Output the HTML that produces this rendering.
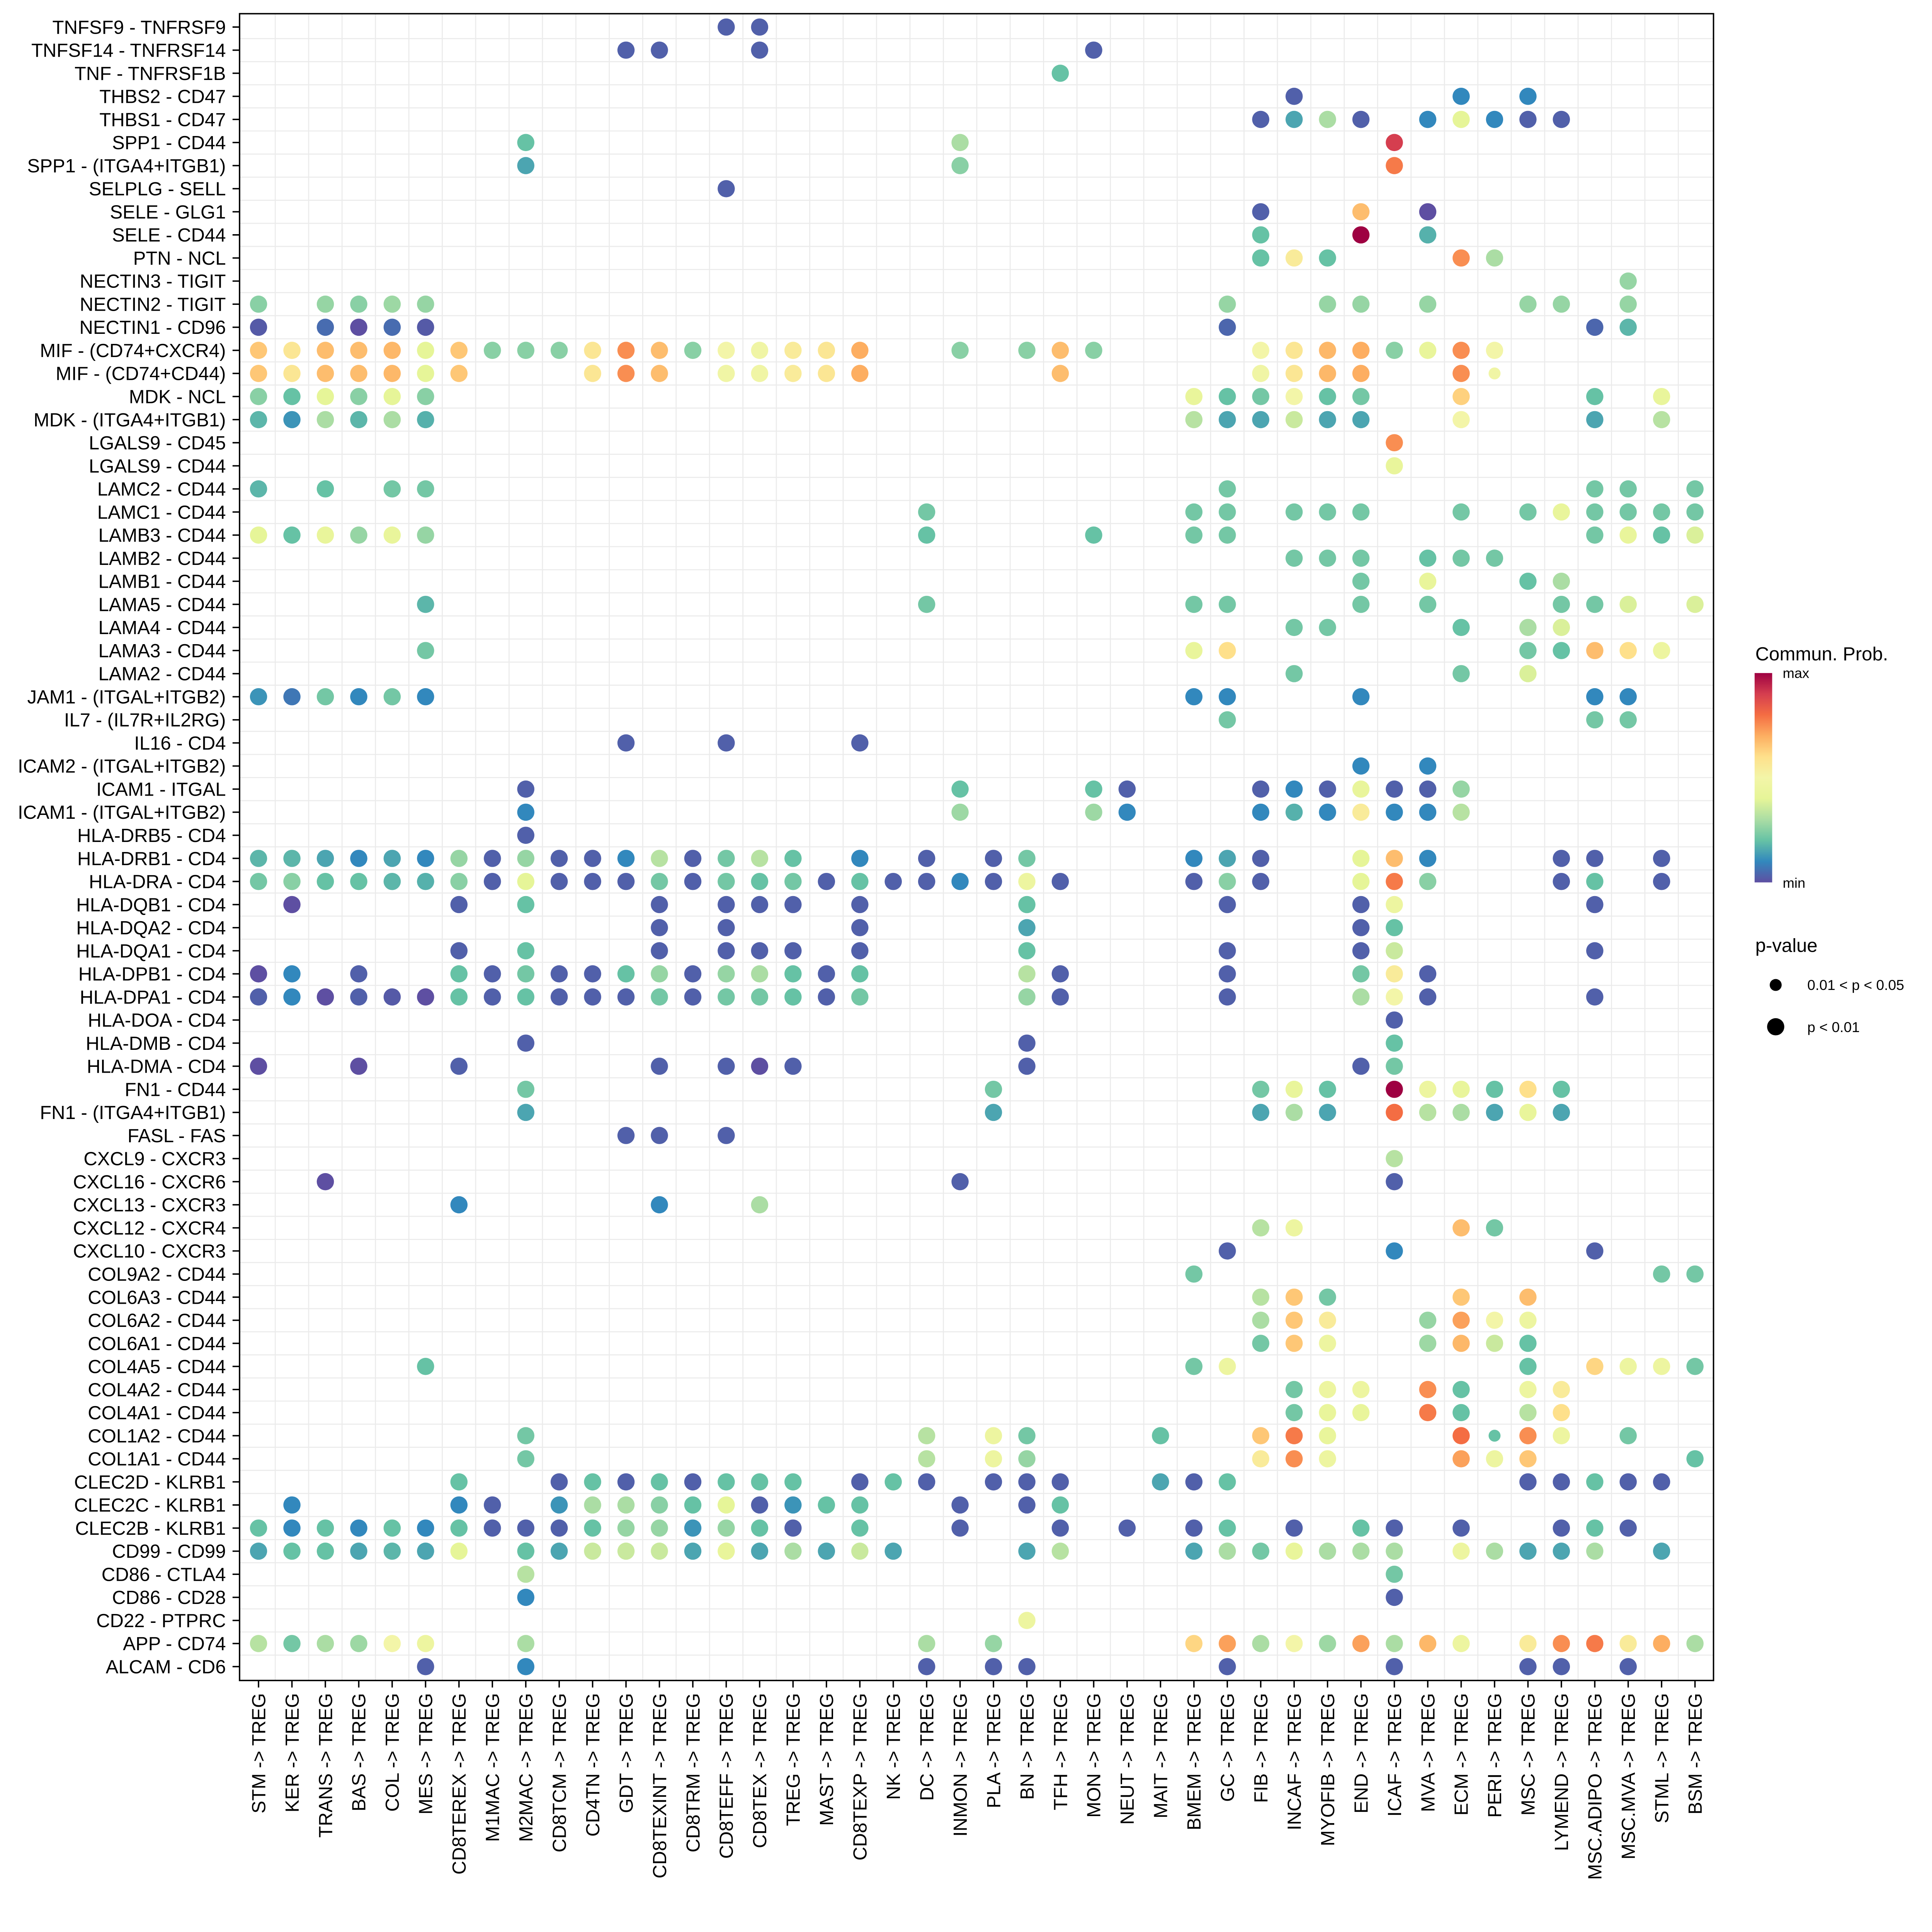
<!DOCTYPE html>
<html><head><meta charset="utf-8"><title>Communication probability dot plot</title>
<style>
html,body{margin:0;padding:0;background:#fff;overflow:hidden;width:100%;height:100%;}
svg{display:block;font-family:"Liberation Sans",Arial,sans-serif;width:100vw;height:100vh;}
</style></head>
<body>
<svg id="chart" xmlns="http://www.w3.org/2000/svg" viewBox="0 0 5500 5399" preserveAspectRatio="xMinYMin meet">
<rect x="0" y="0" width="5500" height="5399" fill="#fff"/>
<g>
<g id="grid"></g>
<g id="dots"></g>
<rect x="682" y="39" width="4196" height="4745" fill="none" stroke="#000" stroke-width="4"/>
<g id="yaxis"></g>
<g id="xaxis"></g>
<g>
  <defs>
    <linearGradient id="spec" x1="0" y1="1" x2="0" y2="0">
      <stop offset="0" stop-color="#5E4FA2"/><stop offset="0.1" stop-color="#3288BD"/>
      <stop offset="0.2" stop-color="#66C2A5"/><stop offset="0.3" stop-color="#ABDDA4"/>
      <stop offset="0.4" stop-color="#E6F598"/><stop offset="0.5" stop-color="#F3F5A8"/>
      <stop offset="0.6" stop-color="#FEE08B"/><stop offset="0.7" stop-color="#FDAE61"/>
      <stop offset="0.8" stop-color="#F46D43"/><stop offset="0.9" stop-color="#D53E4F"/>
      <stop offset="1" stop-color="#9E0142"/>
    </linearGradient>
  </defs>
  <text x="4997" y="1880" font-size="54">Commun. Prob.</text>
  <rect x="4995" y="1916" width="50" height="596" fill="url(#spec)"/>
  <text x="5075" y="1930" font-size="40">max</text>
  <text x="5075" y="2527" font-size="40">min</text>
</g>
<g>
  <text x="4997" y="2710" font-size="54">p-value</text>
  <circle cx="5055" cy="2804" r="17" fill="#000"/>
  <circle cx="5055" cy="2923" r="24.5" fill="#000"/>
  <text x="5145" y="2818" font-size="41">0.01 &lt; p &lt; 0.05</text>
  <text x="5145" y="2938" font-size="41">p &lt; 0.01</text>
</g>
</g>
</svg>
<script>
const rowLabels = ["TNFSF9 - TNFRSF9","TNFSF14 - TNFRSF14","TNF - TNFRSF1B","THBS2 - CD47","THBS1 - CD47","SPP1 - CD44","SPP1 - (ITGA4+ITGB1)","SELPLG - SELL","SELE - GLG1","SELE - CD44","PTN - NCL","NECTIN3 - TIGIT","NECTIN2 - TIGIT","NECTIN1 - CD96","MIF - (CD74+CXCR4)","MIF - (CD74+CD44)","MDK - NCL","MDK - (ITGA4+ITGB1)","LGALS9 - CD45","LGALS9 - CD44","LAMC2 - CD44","LAMC1 - CD44","LAMB3 - CD44","LAMB2 - CD44","LAMB1 - CD44","LAMA5 - CD44","LAMA4 - CD44","LAMA3 - CD44","LAMA2 - CD44","JAM1 - (ITGAL+ITGB2)","IL7 - (IL7R+IL2RG)","IL16 - CD4","ICAM2 - (ITGAL+ITGB2)","ICAM1 - ITGAL","ICAM1 - (ITGAL+ITGB2)","HLA-DRB5 - CD4","HLA-DRB1 - CD4","HLA-DRA - CD4","HLA-DQB1 - CD4","HLA-DQA2 - CD4","HLA-DQA1 - CD4","HLA-DPB1 - CD4","HLA-DPA1 - CD4","HLA-DOA - CD4","HLA-DMB - CD4","HLA-DMA - CD4","FN1 - CD44","FN1 - (ITGA4+ITGB1)","FASL - FAS","CXCL9 - CXCR3","CXCL16 - CXCR6","CXCL13 - CXCR3","CXCL12 - CXCR4","CXCL10 - CXCR3","COL9A2 - CD44","COL6A3 - CD44","COL6A2 - CD44","COL6A1 - CD44","COL4A5 - CD44","COL4A2 - CD44","COL4A1 - CD44","COL1A2 - CD44","COL1A1 - CD44","CLEC2D - KLRB1","CLEC2C - KLRB1","CLEC2B - KLRB1","CD99 - CD99","CD86 - CTLA4","CD86 - CD28","CD22 - PTPRC","APP - CD74","ALCAM - CD6"];
const colLabels = ["STM","KER","TRANS","BAS","COL","MES","CD8TEREX","M1MAC","M2MAC","CD8TCM","CD4TN","GDT","CD8TEXINT","CD8TRM","CD8TEFF","CD8TEX","TREG","MAST","CD8TEXP","NK","DC","INMON","PLA","BN","TFH","MON","NEUT","MAIT","BMEM","GC","FIB","INCAF","MYOFIB","END","ICAF","MVA","ECM","PERI","MSC","LYMEND","MSC.ADIPO","MSC.MVA","STML","BSM"];
const targetLabel = "TREG";
// communication probability per row: [columnIndex, probability (0=min..1=max)]
const commProb = [
[[14,.03],[15,.03]],
[[11,.03],[12,.03],[15,.03],[25,.03]],
[[24,.2]],
[[31,.03],[36,.1],[38,.1]],
[[30,.03],[31,.15],[32,.3],[33,.03],[35,.1],[36,.4],[37,.1],[38,.03],[39,.03]],
[[8,.2],[21,.3],[34,.9]],
[[8,.15],[21,.25],[34,.78]],
[[14,.03]],
[[30,.03],[33,.67],[35,0]],
[[30,.2],[33,1],[35,.17]],
[[30,.2],[31,.55],[32,.2],[36,.75],[37,.3]],
[[41,.27]],
[[0,.25],[2,.27],[3,.25],[4,.28],[5,.27],[29,.27],[32,.27],[33,.27],[35,.27],[38,.27],[39,.27],[41,.27]],
[[0,.02],[2,.05],[3,0],[4,.05],[5,.02],[29,.04],[40,.04],[41,.18]],
[[0,.65],[1,.57],[2,.67],[3,.67],[4,.68],[5,.4],[6,.65],[7,.25],[8,.25],[9,.25],[10,.57],[11,.75],[12,.67],[13,.25],[14,.5],[15,.48],[16,.55],[17,.57],[18,.7],[21,.25],[23,.25],[24,.67],[25,.25],[30,.5],[31,.57],[32,.68],[33,.7],[34,.25],[35,.42],[36,.75],[37,.5]],
[[0,.65],[1,.57],[2,.67],[3,.67],[4,.68],[5,.4],[6,.65],[10,.57],[11,.75],[12,.67],[14,.48],[15,.48],[16,.55],[17,.57],[18,.7],[24,.67],[30,.48],[31,.57],[32,.68],[33,.7],[36,.75],[37,.48]],
[[0,.25],[1,.2],[2,.4],[3,.25],[4,.4],[5,.25],[28,.42],[29,.2],[30,.22],[31,.5],[32,.2],[33,.22],[36,.63],[40,.2],[42,.42]],
[[0,.18],[1,.12],[2,.3],[3,.18],[4,.3],[5,.17],[28,.32],[29,.15],[30,.15],[31,.35],[32,.15],[33,.15],[36,.5],[40,.15],[42,.32]],
[[34,.75]],
[[34,.42]],
[[0,.18],[2,.2],[4,.22],[5,.22],[29,.22],[40,.22],[41,.22],[43,.22]],
[[20,.22],[28,.22],[29,.22],[31,.22],[32,.22],[33,.22],[36,.22],[38,.22],[39,.42],[40,.22],[41,.22],[42,.22],[43,.22]],
[[0,.4],[1,.2],[2,.42],[3,.27],[4,.42],[5,.27],[20,.2],[25,.2],[28,.22],[29,.22],[40,.22],[41,.42],[42,.2],[43,.38]],
[[31,.22],[32,.22],[33,.22],[35,.2],[36,.22],[37,.22]],
[[33,.22],[35,.42],[38,.2],[39,.3]],
[[5,.18],[20,.22],[28,.22],[29,.22],[33,.22],[35,.22],[39,.22],[40,.22],[41,.38],[43,.38]],
[[31,.22],[32,.22],[36,.2],[38,.3],[39,.38]],
[[5,.22],[28,.42],[29,.6],[38,.22],[39,.2],[40,.67],[41,.6],[42,.45]],
[[31,.22],[36,.22],[38,.38]],
[[0,.12],[1,.07],[2,.22],[3,.1],[4,.22],[5,.1],[28,.1],[29,.1],[33,.1],[40,.1],[41,.1]],
[[29,.22],[40,.22],[41,.22]],
[[11,.03],[14,.03],[18,.03]],
[[33,.1],[35,.1]],
[[8,.03],[21,.2],[25,.2],[26,.03],[30,.03],[31,.1],[32,.03],[33,.42],[34,.03],[35,.03],[36,.27]],
[[8,.1],[21,.28],[25,.28],[26,.1],[30,.1],[31,.17],[32,.1],[33,.55],[34,.1],[35,.1],[36,.32]],
[[8,.03]],
[[0,.18],[1,.18],[2,.15],[3,.1],[4,.15],[5,.1],[6,.27],[7,.03],[8,.27],[9,.03],[10,.03],[11,.1],[12,.32],[13,.03],[14,.22],[15,.32],[16,.2],[18,.1],[20,.03],[22,.03],[23,.22],[28,.1],[29,.15],[30,.03],[33,.4],[34,.67],[35,.1],[39,.03],[40,.03],[42,.03]],
[[0,.22],[1,.25],[2,.2],[3,.2],[4,.18],[5,.17],[6,.25],[7,.03],[8,.4],[9,.03],[10,.03],[11,.03],[12,.22],[13,.03],[14,.22],[15,.2],[16,.22],[17,.03],[18,.2],[19,.03],[20,.03],[21,.1],[22,.03],[23,.45],[24,.03],[28,.03],[29,.25],[30,.03],[33,.4],[34,.78],[35,.25],[39,.03],[40,.2],[42,.03]],
[[1,0],[6,.03],[8,.2],[12,.03],[14,.03],[15,.03],[16,.03],[18,.03],[23,.2],[29,.03],[33,.03],[34,.45],[40,.03]],
[[12,.03],[14,.03],[18,.03],[23,.15],[33,.03],[34,.2]],
[[6,.03],[8,.2],[12,.03],[14,.03],[15,.03],[16,.03],[18,.03],[23,.2],[29,.03],[33,.03],[34,.35],[40,.03]],
[[0,0],[1,.1],[3,.03],[6,.2],[7,.03],[8,.22],[9,.03],[10,.03],[11,.2],[12,.27],[13,.03],[14,.27],[15,.3],[16,.2],[17,.03],[18,.2],[23,.32],[24,.03],[29,.03],[33,.22],[34,.55],[35,.03]],
[[0,.03],[1,.1],[2,0],[3,.03],[4,.02],[5,0],[6,.2],[7,.03],[8,.2],[9,.03],[10,.03],[11,.03],[12,.22],[13,.03],[14,.22],[15,.22],[16,.2],[17,.03],[18,.22],[23,.27],[24,.03],[29,.03],[33,.3],[34,.5],[35,.03],[40,.03]],
[[34,.03]],
[[8,.03],[23,.03],[34,.2]],
[[0,0],[3,0],[6,.03],[12,.03],[14,.03],[15,0],[16,.03],[23,.03],[33,.03],[34,.22]],
[[8,.22],[22,.22],[30,.22],[31,.42],[32,.2],[34,1],[35,.45],[36,.42],[37,.2],[38,.6],[39,.2]],
[[8,.15],[22,.15],[30,.15],[31,.3],[32,.15],[34,.8],[35,.32],[36,.3],[37,.15],[38,.42],[39,.15]],
[[11,.03],[12,.03],[14,.03]],
[[34,.32]],
[[2,0],[21,.03],[34,.03]],
[[6,.1],[12,.1],[15,.3]],
[[30,.32],[31,.45],[36,.67],[37,.22]],
[[29,.03],[34,.1],[40,.03]],
[[28,.22],[42,.22],[43,.22]],
[[30,.32],[31,.65],[32,.22],[36,.65],[38,.67]],
[[30,.3],[31,.65],[32,.55],[35,.27],[36,.72],[37,.5],[38,.45]],
[[30,.22],[31,.65],[32,.45],[35,.28],[36,.68],[37,.35],[38,.2]],
[[5,.2],[28,.22],[29,.45],[38,.2],[40,.62],[41,.45],[42,.45],[43,.22]],
[[31,.22],[32,.45],[33,.45],[35,.75],[36,.2],[38,.45],[39,.55]],
[[31,.22],[32,.42],[33,.42],[35,.78],[36,.2],[38,.32],[39,.6]],
[[8,.22],[20,.32],[22,.45],[23,.22],[27,.2],[30,.65],[31,.78],[32,.42],[36,.8],[37,.2],[38,.75],[39,.45],[41,.22]],
[[8,.22],[20,.32],[22,.45],[23,.27],[30,.55],[31,.75],[32,.45],[36,.72],[37,.45],[38,.65],[43,.2]],
[[6,.2],[9,.03],[10,.2],[11,.03],[12,.2],[13,.03],[14,.2],[15,.2],[16,.2],[18,.03],[19,.2],[20,.03],[22,.03],[23,.03],[24,.03],[27,.15],[28,.03],[29,.2],[38,.03],[39,.03],[40,.2],[41,.03],[42,.03]],
[[1,.1],[6,.1],[7,.03],[9,.12],[10,.3],[11,.3],[12,.25],[13,.2],[14,.4],[15,.03],[16,.12],[17,.2],[18,.2],[21,.03],[23,.03],[24,.2]],
[[0,.2],[1,.1],[2,.2],[3,.1],[4,.2],[5,.1],[6,.2],[7,.03],[8,.03],[9,.03],[10,.2],[11,.27],[12,.27],[13,.12],[14,.27],[15,.2],[16,.03],[18,.2],[21,.03],[24,.03],[26,.03],[28,.03],[29,.2],[31,.03],[33,.2],[34,.03],[36,.03],[39,.03],[40,.2],[41,.03]],
[[0,.15],[1,.2],[2,.2],[3,.15],[4,.18],[5,.15],[6,.4],[8,.2],[9,.15],[10,.35],[11,.35],[12,.35],[13,.15],[14,.42],[15,.15],[16,.3],[17,.15],[18,.35],[19,.15],[23,.15],[24,.32],[28,.15],[29,.3],[30,.22],[31,.42],[32,.3],[33,.3],[34,.3],[36,.45],[37,.3],[38,.15],[39,.15],[40,.3],[42,.15]],
[[8,.32],[34,.22]],
[[8,.1],[34,.03]],
[[23,.45]],
[[0,.32],[1,.22],[2,.3],[3,.28],[4,.5],[5,.45],[8,.3],[20,.3],[22,.27],[28,.62],[29,.72],[30,.3],[31,.5],[32,.28],[33,.72],[34,.3],[35,.68],[36,.45],[38,.55],[39,.75],[40,.78],[41,.55],[42,.7],[43,.3]],
[[5,.03],[8,.1],[20,.03],[22,.03],[23,.03],[29,.03],[34,.03],[38,.03],[39,.03],[41,.03]]
];
// pairs with 0.01 < p < 0.05 : [rowIndex, columnIndex]
const weakPairs = [[15,37],[61,37]];

const NS = "http://www.w3.org/2000/svg";
const X0 = 736, DX = 95.1, Y0 = 77, DY = 65.74;
function xScale(c){ return X0 + c*DX; }
function yScale(r){ return Y0 + r*DY; }
const stops = ["#5E4FA2","#3288BD","#66C2A5","#ABDDA4","#E6F598","#F3F5A8","#FEE08B","#FDAE61","#F46D43","#D53E4F","#9E0142"];
function hex(h){ return [parseInt(h.slice(1,3),16),parseInt(h.slice(3,5),16),parseInt(h.slice(5,7),16)]; }
function colorScale(v){
  v = Math.max(0, Math.min(1, v));
  const p = v*10, i = Math.min(9, Math.floor(p)), f = p - i;
  const a = hex(stops[i]), b = hex(stops[i+1]);
  return "rgb(" + a.map((x,k)=>Math.round(x+(b[k]-x)*f)).join(",") + ")";
}
function mk(tag, attrs, parent){
  const e = document.createElementNS(NS, tag);
  for (const k in attrs) e.setAttribute(k, attrs[k]);
  parent.appendChild(e);
  return e;
}
const grid = document.getElementById("grid");
for (let i = 0; i < colLabels.length - 1; i++) {
  const x = xScale(i + 0.5);
  const l = mk("line", {x1:x, x2:x, y1:39, y2:4784, stroke:"#ebebeb", "stroke-width":3}, grid);
  
  
}
for (let r = 0; r < rowLabels.length - 1; r++) {
  const y = yScale(r + 0.5);
  const l = mk("line", {x1:682, x2:4878, y1:y, y2:y, stroke:"#ebebeb", "stroke-width":3}, grid);
  
  
}
const ya = document.getElementById("yaxis");
rowLabels.forEach((lab, r) => {
  const y = yScale(r);
  const t = mk("line", {x1:662, x2:682, y1:y, y2:y, stroke:"#000", "stroke-width":4}, ya);
  
  
  const tx = mk("text", {x:643, y:y+19, "font-size":54, "text-anchor":"end", fill:"#000"}, ya);
  tx.textContent = lab;
  
  
});
const xa = document.getElementById("xaxis");
colLabels.forEach((lab, c) => {
  const x = xScale(c);
  const t = mk("line", {x1:x, x2:x, y1:4784, y2:4804, stroke:"#000", "stroke-width":4}, xa);
  
  
  const tx = mk("text", {x:0, y:0, "font-size":54, "text-anchor":"end", fill:"#000",
    transform:"translate(" + (x+19) + ",4820) rotate(-90)"}, xa);
  tx.textContent = lab + " -> " + targetLabel;
  
  
});
const dl = document.getElementById("dots");
commProb.forEach((row, r) => {
  row.forEach(([c, v]) => {
    const weak = weakPairs.some(p => p[0] === r && p[1] === c);
    const d = mk("circle", {cx:xScale(c), cy:yScale(r), r: weak ? 17 : 24.5, fill:colorScale(v)}, dl);
    
    
  });
});
</script>
</body></html>
